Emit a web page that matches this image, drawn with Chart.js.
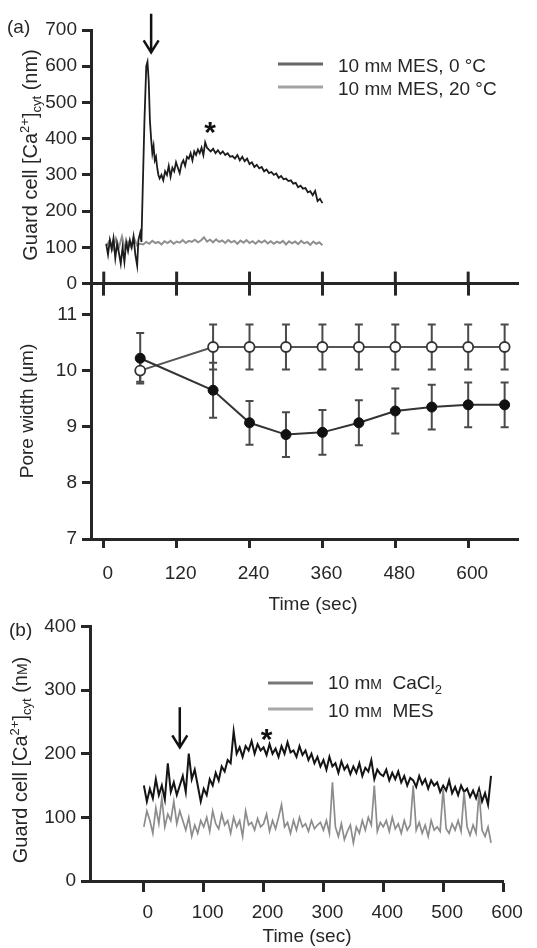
<!DOCTYPE html>
<html>
<head>
<meta charset="utf-8">
<script src="https://cdn.jsdelivr.net/npm/chart.js@4.4.1/dist/chart.umd.min.js"></script>
<style>
  body { margin: 0; background: #fff; }
  #wrap { position: relative; width: 537px; height: 948px; background: #fff; }
  canvas { position: absolute; left: 0; }
</style>
</head>
<body>
<div id="wrap">
  <canvas id="chartB" width="537" height="338" style="top:610px"></canvas>
  <canvas id="chartPore" width="537" height="350" style="top:270px"></canvas>
  <canvas id="chartA" width="537" height="300" style="top:0px"></canvas>
</div>
<script>
// ---------- (a) [Ca2+]cyt traces ----------
const timeCold = [4,7,10,13,16,19,22,25,28,31,34,37,40,43,46,49,52,55,
  57,60,62,64,67,70,72,74,76,78,80,82,84,86,88,90,92,
  95,98,101,104,107,110,113,116,119,122,125,
  128,131,134,137,140,143,146,149,152,155,158,161,164,167,170,173,176,
  180,184,188,192,196,200,204,208,212,216,220,224,228,232,236,240,244,248,252,256,
  260,264,268,272,276,280,284,288,292,296,300,304,308,312,316,320,324,328,332,336,
  340,344,348,352,356,360];
const caCold = [110,80,120,95,125,70,110,85,55,100,60,115,90,120,100,130,80,50,
  120,140,115,250,450,600,612,560,450,400,360,380,340,350,320,300,290,
  300,285,310,300,325,295,320,310,335,320,305,
  330,340,325,350,345,360,340,365,355,370,360,375,355,390,375,370,365,
  372,360,368,358,365,355,360,350,352,345,355,340,350,338,345,330,335,322,328,318,
  322,310,315,305,308,300,304,292,297,288,290,283,285,276,278,266,270,262,264,252,
  255,244,256,228,234,222];

const timeWarm = [5,10,15,20,25,30,35,40,45,50,55,60,65,70,75,80,85,90,95,100,105,110,115,120,
  125,130,135,140,145,150,155,160,165,170,175,180,185,190,195,200,205,210,215,220,225,230,235,240,
  245,250,255,260,265,270,275,280,285,290,295,300,305,310,315,320,325,330,335,340,345,350,355,360];
const caWarm = [105,120,95,125,100,130,95,115,100,125,105,110,
  108,115,110,118,112,115,108,117,112,118,110,116,
  113,120,112,118,115,121,114,119,128,116,121,114,
  122,115,119,112,120,114,118,110,119,113,120,112,
  117,110,118,113,119,111,117,110,116,112,118,108,
  117,111,116,109,118,111,115,107,116,110,114,106];

const ticksCaA = [0,100,200,300,400,500,600,700];
const ticksTime = [0,120,240,360,480,600];

// ---------- (a) pore width ----------
const timePore = [60,180,240,300,360,420,480,540,600,660];
const poreWarm = [10.0,10.42,10.42,10.42,10.42,10.42,10.42,10.42,10.42,10.42];
const poreWarmErr = [0.2,0.4,0.4,0.4,0.4,0.4,0.4,0.4,0.4,0.4];
const poreCold = [10.22,9.65,9.07,8.86,8.9,9.07,9.28,9.35,9.39,9.39];
const poreColdErr = [0.45,0.49,0.39,0.4,0.4,0.4,0.4,0.4,0.4,0.4];
const ticksPore = [7,8,9,10,11];

// ---------- (b) [Ca2+]cyt traces, one sample every 5 s from 0 s ----------
const stepB = 5;
const caCaCl2 = [150,125,145,130,160,135,150,128,185,140,155,135,
  150,165,140,200,160,175,150,125,
  145,135,160,150,170,158,180,172,190,185,
  235,200,210,195,212,205,220,200,215,205,
  210,198,215,200,208,195,212,200,218,202,
  205,195,212,198,205,190,200,185,195,180,
  190,175,195,180,185,170,188,175,182,168,
  180,170,185,165,178,172,190,160,175,168,
  165,175,158,170,160,172,155,165,150,162,
  158,148,165,152,160,145,158,150,155,140,
  150,142,158,138,148,135,150,140,145,132,
  142,130,145,125,138,120,165];
const caMes = [85,110,95,75,115,90,130,85,105,95,125,90,
  110,95,80,100,70,88,75,95,
  85,100,78,110,90,82,105,88,95,75,
  100,85,95,70,110,88,92,80,98,85,
  90,105,78,95,82,100,120,85,92,75,
  95,80,100,85,90,78,95,82,88,92,
  80,95,75,155,85,70,90,65,78,88,
  60,85,75,95,80,100,88,150,78,92,
  85,95,78,100,82,90,75,95,80,88,
  150,80,92,75,88,70,95,80,85,78,
  145,82,75,90,80,95,78,140,85,72,
  88,75,140,80,70,85,60];
const ticksCaB = [0,100,200,300,400];
const ticksTimeB = [0,100,200,300,400,500,600];

// annotation spots (data units)
const arrowA = { t: 78, from: 745, to: 638 };
const starA = { t: 175, v: 438 };
const arrowB = { t: 60, from: 273, to: 210 };
const starB = { t: 205, v: 234 };

const FONT = '"Liberation Sans", Arial, Helvetica, sans-serif';
const INK = '#262626';

function pts(xs, ys) {
  return xs.map((x, i) => ({ x: x, y: ys[i] }));
}

// text with super/subscripts: parts = [[text, size, dy], ...]
function richText(ctx, parts, x, y, align) {
  let total = 0;
  parts.forEach(p => { ctx.font = p[1] + 'px ' + FONT; total += ctx.measureText(p[0]).width; });
  let cx = align === 'center' ? x - total / 2 : x;
  ctx.textAlign = 'left';
  ctx.textBaseline = 'alphabetic';
  ctx.fillStyle = INK;
  parts.forEach(p => {
    ctx.font = p[1] + 'px ' + FONT;
    ctx.fillText(p[0], cx, y + (p[2] || 0));
    cx += ctx.measureText(p[0]).width;
  });
}

function verticalTitle(ctx, parts, x, yMid) {
  ctx.save();
  ctx.translate(x, yMid);
  ctx.rotate(-Math.PI / 2);
  richText(ctx, parts, 0, 0, 'center');
  ctx.restore();
}

function legendRow(ctx, color, x1, x2, lineY, parts, textX, baseY) {
  ctx.save();
  ctx.strokeStyle = color;
  ctx.lineWidth = 3;
  ctx.beginPath();
  ctx.moveTo(x1, lineY);
  ctx.lineTo(x2, lineY);
  ctx.stroke();
  richText(ctx, parts, textX, baseY, 'left');
  ctx.restore();
}

function arrowDown(ctx, x, y1, y2) {
  ctx.save();
  ctx.strokeStyle = '#111';
  ctx.lineWidth = 2.5;
  ctx.beginPath();
  ctx.moveTo(x, y1);
  ctx.lineTo(x, y2);
  ctx.moveTo(x - 7.5, y2 - 12);
  ctx.lineTo(x, y2);
  ctx.lineTo(x + 7.5, y2 - 12);
  ctx.stroke();
  ctx.restore();
}

function star(ctx, x, y) {
  ctx.save();
  ctx.fillStyle = '#111';
  ctx.font = 'bold 30px ' + FONT;
  ctx.textAlign = 'center';
  ctx.textBaseline = 'alphabetic';
  ctx.fillText('*', x, y + 17);
  ctx.restore();
}

function yScale(min, max, tickValues, width) {
  return {
    type: 'linear', min: min, max: max,
    afterBuildTicks: s => { s.ticks = tickValues.map(v => ({ value: v })); },
    afterFit: s => { s.width = width; },
    ticks: { color: INK, font: { family: FONT, size: 19 }, padding: 5 },
    grid: { drawOnChartArea: false, drawTicks: true, tickLength: 9, tickWidth: 3, tickColor: INK },
    border: { color: INK, width: 3 }
  };
}

function xScale(min, max, tickValues, height, tickLen, labels, pad) {
  return {
    type: 'linear', min: min, max: max,
    afterBuildTicks: s => { s.ticks = tickValues.map(v => ({ value: v })); },
    afterFit: s => { s.height = height; },
    ticks: { display: labels, color: INK, font: { family: FONT, size: 19 }, padding: pad, labelOffset: 4, maxRotation: 0 },
    grid: { drawOnChartArea: false, drawTicks: true, tickLength: tickLen, tickWidth: 3, tickColor: INK },
    border: { color: INK, width: 3 }
  };
}

const baseOptions = {
  responsive: false,
  animation: false,
  plugins: { legend: { display: false }, tooltip: { enabled: false } },
  elements: { line: { tension: 0 } }
};

// error bars for the pore width chart
const errorBars = {
  id: 'errorBars',
  beforeDatasetsDraw(chart) {
    const ctx = chart.ctx, ys = chart.scales.y;
    chart.data.datasets.forEach((ds, i) => {
      const meta = chart.getDatasetMeta(i);
      ctx.save();
      ctx.strokeStyle = '#4a4a4a';
      ctx.lineWidth = 2;
      meta.data.forEach((pt, j) => {
        const m = ds.data[j].y, e = ds.errors[j];
        const top = ys.getPixelForValue(m + e), bot = ys.getPixelForValue(m - e);
        ctx.beginPath();
        ctx.moveTo(pt.x, top); ctx.lineTo(pt.x, bot);
        ctx.moveTo(pt.x - 4, top); ctx.lineTo(pt.x + 4, top);
        ctx.moveTo(pt.x - 4, bot); ctx.lineTo(pt.x + 4, bot);
        ctx.stroke();
      });
      ctx.restore();
    });
  }
};

// 1. TOP PANEL (a)
function drawChartA() {
  const deco = {
    id: 'decoA',
    afterDraw(chart) {
      const ctx = chart.ctx, xs = chart.scales.x, ys = chart.scales.y;
      const bottom = chart.chartArea.bottom;
      // tick marks also go up from the shared axis
      ctx.save();
      ctx.strokeStyle = INK;
      ctx.lineWidth = 3;
      ticksTime.forEach(v => {
        const px = xs.getPixelForValue(v);
        ctx.beginPath();
        ctx.moveTo(px, bottom - 12);
        ctx.lineTo(px, bottom);
        ctx.stroke();
      });
      ctx.restore();
      richText(ctx, [['(a)', 19]], 7, 33, 'left');
      verticalTitle(ctx, [['Guard cell [Ca', 20], ['2+', 13, -8], [']', 20], ['cyt', 13, 4], [' (nm)', 20]], 37, 155);
      legendRow(ctx, '#666', 278, 323, 64, [['10 m', 19], ['M', 14], [' MES, 0 °C', 19]], 338, 72);
      legendRow(ctx, '#a3a3a3', 278, 323, 87, [['10 m', 19], ['M', 14], [' MES, 20 °C', 19]], 338, 95);
      arrowDown(ctx, xs.getPixelForValue(arrowA.t), ys.getPixelForValue(arrowA.from), ys.getPixelForValue(arrowA.to));
      star(ctx, xs.getPixelForValue(starA.t), ys.getPixelForValue(starA.v));
    }
  };
  new Chart(document.getElementById('chartA'), {
    type: 'line',
    data: {
      datasets: [
        { data: pts(timeCold, caCold), borderColor: '#1c1c1c', borderWidth: 1.8, pointRadius: 0 },
        { data: pts(timeWarm, caWarm), borderColor: '#8f8f8f', borderWidth: 2, pointRadius: 0 }
      ]
    },
    options: Object.assign({}, baseOptions, {
      layout: { padding: { top: 30, right: 19, left: 0, bottom: 0 } },
      scales: {
        x: xScale(-21, 682, ticksTime, 16, 12, false, 0),
        y: yScale(0, 700, ticksCaA, 91)
      }
    }),
    plugins: [deco]
  });
}

// 2. MIDDLE PANEL, pore width
function drawChartPore() {
  const deco = {
    id: 'decoPore',
    afterDraw(chart) {
      const ctx = chart.ctx;
      verticalTitle(ctx, [['Pore width (μm)', 19]], 33, 141);
      richText(ctx, [['Time (sec)', 19]], 313, 340, 'center');
    }
  };
  new Chart(document.getElementById('chartPore'), {
    type: 'line',
    data: {
      datasets: [
        { data: pts(timePore, poreCold), errors: poreColdErr, borderColor: '#333', borderWidth: 2,
          pointRadius: 5, pointBackgroundColor: '#111', pointBorderColor: '#111', pointBorderWidth: 1 },
        { data: pts(timePore, poreWarm), errors: poreWarmErr, borderColor: '#555', borderWidth: 2,
          pointRadius: 5, pointBackgroundColor: '#fff', pointBorderColor: '#333', pointBorderWidth: 1.8 }
      ]
    },
    options: Object.assign({}, baseOptions, {
      layout: { padding: { top: 14, right: 19, left: 0, bottom: 0 } },
      scales: {
        x: xScale(-21, 682, ticksTime, 81, 9, true, 14),
        y: yScale(7, 11.5, ticksPore, 91)
      }
    }),
    plugins: [errorBars, deco]
  });
}

// 3. BOTTOM PANEL (b)
function drawChartB() {
  const deco = {
    id: 'decoB',
    afterDraw(chart) {
      const ctx = chart.ctx, xs = chart.scales.x, ys = chart.scales.y;
      richText(ctx, [['(b)', 19]], 9, 26, 'left');
      verticalTitle(ctx, [['Guard cell [Ca', 20], ['2+', 13, -8], [']', 20], ['cyt', 13, 4], [' (n', 20], ['M', 14], [')', 20]], 27, 150);
      legendRow(ctx, '#777', 268, 313, 73, [['10 m', 19], ['M', 14], ['  CaCl', 19], ['2', 13, 5]], 328, 79);
      legendRow(ctx, '#a8a8a8', 268, 313, 99, [['10 m', 19], ['M', 14], ['  MES', 19]], 328, 107);
      richText(ctx, [['Time (sec)', 19]], 307, 332, 'center');
      arrowDown(ctx, xs.getPixelForValue(arrowB.t), ys.getPixelForValue(arrowB.from), ys.getPixelForValue(arrowB.to));
      star(ctx, xs.getPixelForValue(starB.t), ys.getPixelForValue(starB.v));
    }
  };
  new Chart(document.getElementById('chartB'), {
    type: 'line',
    data: {
      datasets: [
        { data: caMes.map((v, i) => ({ x: i * stepB, y: v })), borderColor: '#8c8c8c', borderWidth: 1.7, pointRadius: 0 },
        { data: caCaCl2.map((v, i) => ({ x: i * stepB, y: v })), borderColor: '#141414', borderWidth: 2, pointRadius: 0 }
      ]
    },
    options: Object.assign({}, baseOptions, {
      layout: { padding: { top: 16, right: 34, left: 0, bottom: 0 } },
      scales: {
        x: xScale(-90, 600, ticksTimeB, 67, 11, true, 9),
        y: yScale(0, 400, ticksCaB, 90)
      }
    }),
    plugins: [deco]
  });
}

drawChartA();
drawChartPore();
drawChartB();
</script>
</body>
</html>
